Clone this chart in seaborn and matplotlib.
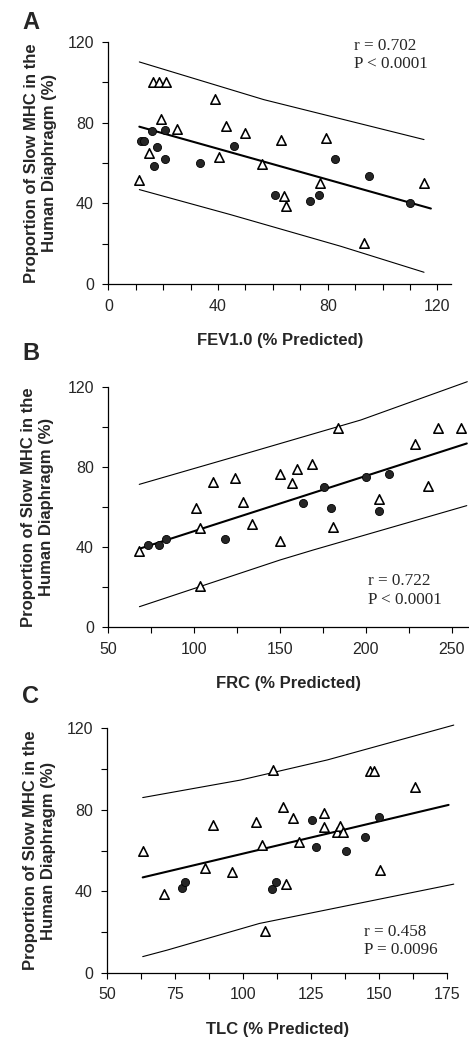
import numpy as np
import pandas as pd
import matplotlib
matplotlib.use("Agg")
import matplotlib.pyplot as plt
from matplotlib.ticker import MultipleLocator
import seaborn as sns

# ---- panel A: FEV1.0 ----
a_tri_x = [11.3, 15.0, 16.2, 18.6, 21.0, 19.1, 25.2, 39.0, 40.2, 43.0, 50.0, 56.0, 63.1, 64.2, 64.9, 79.2, 77.1, 93.2, 115.1]
a_tri_y = [51.7, 65.0, 100, 100, 100, 82.0, 76.9, 91.7, 62.8, 78.5, 74.9, 59.5, 71.6, 43.5, 38.5, 72.6, 50.1, 20.3, 50.1]
a_dot_x = [11.8, 13.0, 16.1, 17.9, 16.7, 20.6, 20.6, 33.5, 45.8, 60.7, 73.7, 76.9, 82.7, 94.9, 109.9]
a_dot_y = [71.0, 71.0, 75.7, 67.9, 58.3, 76.5, 62.1, 60.0, 68.6, 44.0, 41.3, 44.0, 61.8, 53.4, 40.2]
a_fit_x = [11.3, 117.6]
a_fit_y = [78.0, 37.4]
a_up_x = [11.3, 56.7, 115.1]
a_up_y = [110.1, 91.4, 71.6]
a_lo_x = [11.3, 44.5, 84.7, 115.1]
a_lo_y = [46.8, 34.4, 18.7, 5.8]

# ---- panel B: FRC ----
b_tri_x = [68.1, 101.1, 103.4, 103.4, 111.2, 123.6, 128.6, 133.7, 150.0, 150.0, 156.8, 160.1, 168.6, 183.6, 181.1, 207.7, 228.6, 236.4, 241.8, 255.4]
b_tri_y = [38.2, 59.7, 49.4, 20.6, 72.3, 74.6, 62.7, 51.4, 76.5, 43.2, 71.8, 78.8, 81.3, 99.2, 50.2, 64.0, 91.2, 70.5, 99.2, 99.2]
b_dot_x = [73.3, 79.5, 83.4, 118.2, 163.2, 175.8, 179.7, 199.9, 207.7, 213.3]
b_dot_y = [41.1, 41.1, 44.0, 44.0, 62.2, 70.1, 59.7, 75.1, 58.2, 76.3]
b_fit_x = [68.1, 258.7]
b_fit_y = [39.2, 91.7]
b_up_x = [68.0, 135.0, 197.0, 259.0]
b_up_y = [71.3, 87.9, 103.4, 122.5]
b_lo_x = [68.1, 150.0, 169.4, 258.7]
b_lo_y = [10.3, 33.6, 38.6, 60.7]

# ---- panel C: TLC ----
c_tri_x = [63.0, 70.9, 86.0, 89.0, 95.8, 104.8, 107.0, 108.1, 110.9, 114.8, 115.8, 118.5, 120.7, 129.8, 129.8, 134.7, 135.7, 136.9, 146.8, 148.2, 150.2, 163.3]
c_tri_y = [59.8, 38.6, 51.6, 72.5, 49.6, 74.2, 62.7, 20.6, 99.5, 81.5, 43.5, 76.1, 64.0, 78.3, 71.4, 69.3, 71.8, 69.3, 99.2, 99.2, 50.4, 91.4]
c_dot_x = [77.6, 78.7, 110.5, 111.9, 125.5, 126.9, 137.7, 144.8, 149.8]
c_dot_y = [41.4, 44.4, 40.9, 44.4, 75.0, 61.9, 59.8, 66.8, 76.3]
c_fit_x = [63.0, 175.6]
c_fit_y = [46.8, 82.4]
c_up_x = [63.0, 99.0, 131.0, 177.5]
c_up_y = [86.0, 94.6, 104.5, 121.6]
c_lo_x = [63.0, 72.0, 106.0, 177.5]
c_lo_y = [7.9, 11.1, 24.2, 43.5]

sns.set_style("ticks")
plt.rcParams['font.family'] = ['Liberation Sans', 'DejaVu Sans']

fig = plt.figure(figsize=(4.69, 10.39), dpi=100)

panels = [
    dict(letter="A", rect=[0.231, 0.7267, 0.731, 0.2329], xlim=(0, 125), major=40, minor=10,
         xlabel="FEV1.0 (% Predicted)",
         tri=(a_tri_x, a_tri_y), dot=(a_dot_x, a_dot_y),
         fit=(a_fit_x, a_fit_y), up=(a_up_x, a_up_y), lo=(a_lo_x, a_lo_y),
         stat="r = 0.702\nP < 0.0001", stat_xy=(89.5, 122.0), letter_y=0.9785),
    dict(letter="B", rect=[0.231, 0.3962, 0.769, 0.2316], xlim=(50, 260), major=50, minor=25,
         xlabel="FRC (% Predicted)",
         tri=(b_tri_x, b_tri_y), dot=(b_dot_x, b_dot_y),
         fit=(b_fit_x, b_fit_y), up=(b_up_x, b_up_y), lo=(b_lo_x, b_lo_y),
         stat="r = 0.722\nP < 0.0001", stat_xy=(201.0, 27.0), letter_y=0.660),
    dict(letter="C", rect=[0.229, 0.0638, 0.724, 0.2352], xlim=(50, 175), major=25, minor=12.5,
         xlabel="TLC (% Predicted)",
         tri=(c_tri_x, c_tri_y), dot=(c_dot_x, c_dot_y),
         fit=(c_fit_x, c_fit_y), up=(c_up_x, c_up_y), lo=(c_lo_x, c_lo_y),
         stat="r = 0.458\nP = 0.0096", stat_xy=(144.3, 24.0), letter_y=0.3295),
]

for p in panels:
    ax = fig.add_axes(p["rect"])

    # prediction band and regression line
    for key, lw in (("up", 0.8), ("lo", 0.8), ("fit", 1.5)):
        xs, ys = p[key]
        sns.lineplot(x=xs, y=ys, ax=ax, color="black", lw=lw, estimator=None, sort=False)
    for line in ax.lines:
        line.set_clip_on(False)

    tri = pd.DataFrame({"x": p["tri"][0], "y": p["tri"][1]})
    dot = pd.DataFrame({"x": p["dot"][0], "y": p["dot"][1]})
    sns.scatterplot(data=tri, x="x", y="y", ax=ax, marker="^", s=46,
                    facecolor="white", edgecolor="black", linewidth=1.15, zorder=3, clip_on=False)
    sns.scatterplot(data=dot, x="x", y="y", ax=ax, marker="o", s=34,
                    color="#262626", edgecolor="black", linewidth=0.6, zorder=4, clip_on=False)

    ax.set_xlim(*p["xlim"])
    ax.set_ylim(0, 120)
    ax.xaxis.set_major_locator(MultipleLocator(p["major"]))
    ax.xaxis.set_minor_locator(MultipleLocator(p["minor"]))
    ax.yaxis.set_major_locator(MultipleLocator(40))
    ax.yaxis.set_minor_locator(MultipleLocator(20))
    ax.tick_params(which="both", direction="out", length=4.5, width=0.8, color="black")
    ax.tick_params(which="major", labelsize=11.5, pad=6)

    sns.despine(ax=ax)
    for s in ("left", "bottom"):
        ax.spines[s].set_linewidth(0.9)
        ax.spines[s].set_color("black")

    ax.set_xlabel(p["xlabel"], fontsize=12, fontweight="bold", labelpad=14)
    ax.set_ylabel("Proportion of Slow MHC in the\nHuman Diaphragm (%)",
                  fontsize=12, fontweight="bold", linespacing=1.25)
    ax.yaxis.set_label_coords(-0.15, 0.5)

    ax.text(p["stat_xy"][0], p["stat_xy"][1], p["stat"], family=["Liberation Serif", "DejaVu Serif"],
            fontsize=12.3, va="top", ha="left", linespacing=1.2)

    fig.text(0.047, p["letter_y"], p["letter"], fontsize=17, fontweight="bold", va="center", ha="left")

fig.savefig("out.png", dpi=100)
